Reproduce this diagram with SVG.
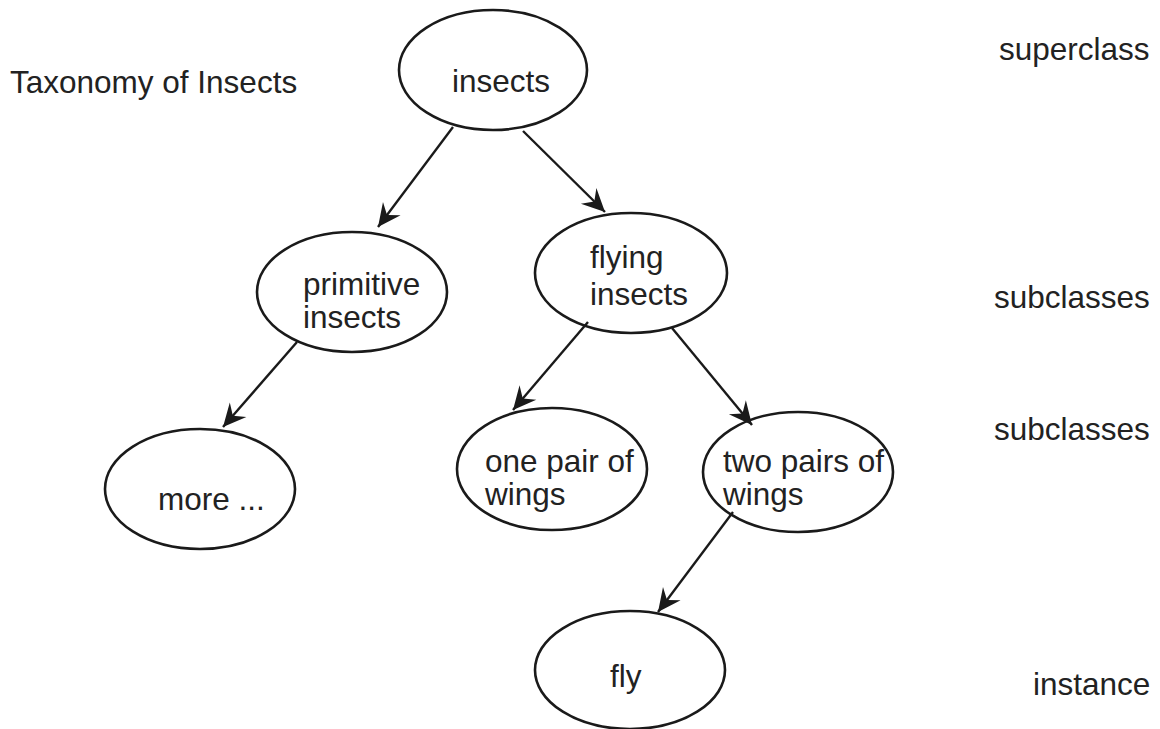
<svg xmlns="http://www.w3.org/2000/svg" width="1160" height="729" viewBox="0 0 1160 729">
<style>
.node ellipse{fill:#fff;stroke:#1a1a1a;stroke-width:2.6}
text{font-family:"Liberation Sans",Arial,sans-serif;font-size:31.5px;fill:#222}
.edge{stroke:#1a1a1a;stroke-width:2.4;fill:none;marker-end:url(#arr)}
</style>
<defs>
<marker id="arr" markerUnits="userSpaceOnUse" viewBox="-24 -12 26 24" refX="0" refY="0" markerWidth="26" markerHeight="24" orient="auto">
<path d="M0 0 L-23 -11 L-15 0 L-23 11 Z" fill="#1a1a1a"/>
</marker>
</defs>
<rect width="1160" height="729" fill="#fff"/>
<text x="10" y="93">Taxonomy of Insects</text>
<text x="999" y="60">superclass</text>
<text x="994" y="308">subclasses</text>
<text x="994" y="440">subclasses</text>
<text x="1033" y="695">instance</text>
<g id="n-insects" class="node"><ellipse cx="493" cy="70" rx="94" ry="60"/><text x="452" y="92">insects</text></g>
<g id="n-primitive" class="node"><ellipse cx="352" cy="292" rx="95" ry="60"/><text x="303" y="295">primitive</text><text x="303" y="328">insects</text></g>
<g id="n-flying" class="node"><ellipse cx="631" cy="273" rx="96" ry="60"/><text x="590" y="268">flying</text><text x="590" y="305">insects</text></g>
<g id="n-more" class="node"><ellipse cx="200" cy="489" rx="95" ry="60"/><text x="158" y="510">more ...</text></g>
<g id="n-one" class="node"><ellipse cx="552" cy="469" rx="95" ry="61"/><text x="485" y="472">one pair of</text><text x="485" y="505">wings</text></g>
<g id="n-two" class="node"><ellipse cx="798" cy="472" rx="95" ry="60"/><text x="723" y="472">two pairs of</text><text x="723" y="505">wings</text></g>
<g id="n-fly" class="node"><ellipse cx="630" cy="670" rx="95" ry="59"/><text x="610" y="687">fly</text></g>
<g id="edges">
<line class="edge" x1="453" y1="127" x2="378" y2="227"/>
<line class="edge" x1="523" y1="131" x2="605" y2="212"/>
<line class="edge" x1="297" y1="342" x2="223" y2="427"/>
<line class="edge" x1="588" y1="322" x2="513" y2="410"/>
<line class="edge" x1="672" y1="328" x2="752" y2="425"/>
<line class="edge" x1="733" y1="512" x2="658" y2="612"/>
</g>
</svg>
